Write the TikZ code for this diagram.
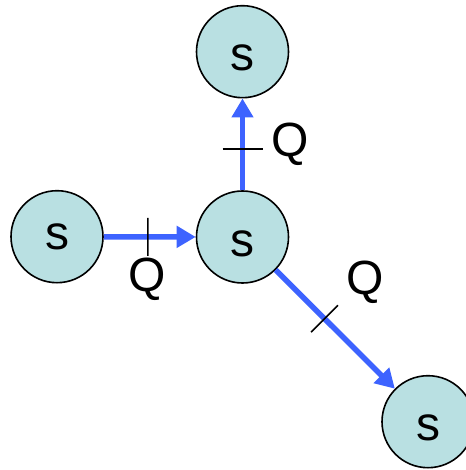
\documentclass[tikz,border=0pt]{standalone}
\usepackage{fontspec}
\setmainfont{Liberation Sans}
\usetikzlibrary{arrows.meta,calc}
\definecolor{nodefill}{RGB}{185,224,226}
\definecolor{flowblue}{RGB}{61,99,255}
\tikzset{
  state/.style={circle,draw=black,line width=1.6pt,fill=nodefill,minimum size=92pt,inner sep=0pt,font=\fontsize{48}{48}\selectfont},
  lows/.style={text height=39pt},
  flow/.style={draw=flowblue,line width=5.5pt,-{Triangle[length=19pt,width=21pt]}},
  tickline/.style={draw=black,line width=1.6pt},
  qlabel/.style={font=\fontsize{48}{48}\selectfont,inner sep=0pt}
}
\begin{document}
\begin{tikzpicture}[x=1pt,y=-1pt]
\useasboundingbox (0,0) rectangle (465,470);
\node[state,lows] (T) at (242.5,51.7) {s};
\node[state] (L) at (57,236.7) {s};
\node[state,lows] (C) at (242.5,237) {s};
\node[state,lows] (B) at (428,421.7) {s};
\draw[flow] (L) -- coordinate[pos=0.48] (t1) (C);
\draw[flow] (C) -- coordinate[pos=0.45] (t2) (T);
\draw[flow] (C) -- coordinate[pos=0.41] (t3) (B);
\draw[tickline] ($(t1)!19pt!90:(C)$) -- ($(t1)!19pt!-90:(C)$);
\draw[tickline] ($(t2)!20pt!90:(T)$) -- ($(t2)!20pt!-90:(T)$);
\draw[tickline] ($(t3)!19pt!90:(B)$) -- ($(t3)!19pt!-90:(B)$);
\node[qlabel] (q1) at (147,279) {Q};
\node[qlabel] (q2) at (290,144) {Q};
\node[qlabel] (q3) at (365,282) {Q};
\end{tikzpicture}
\end{document}
